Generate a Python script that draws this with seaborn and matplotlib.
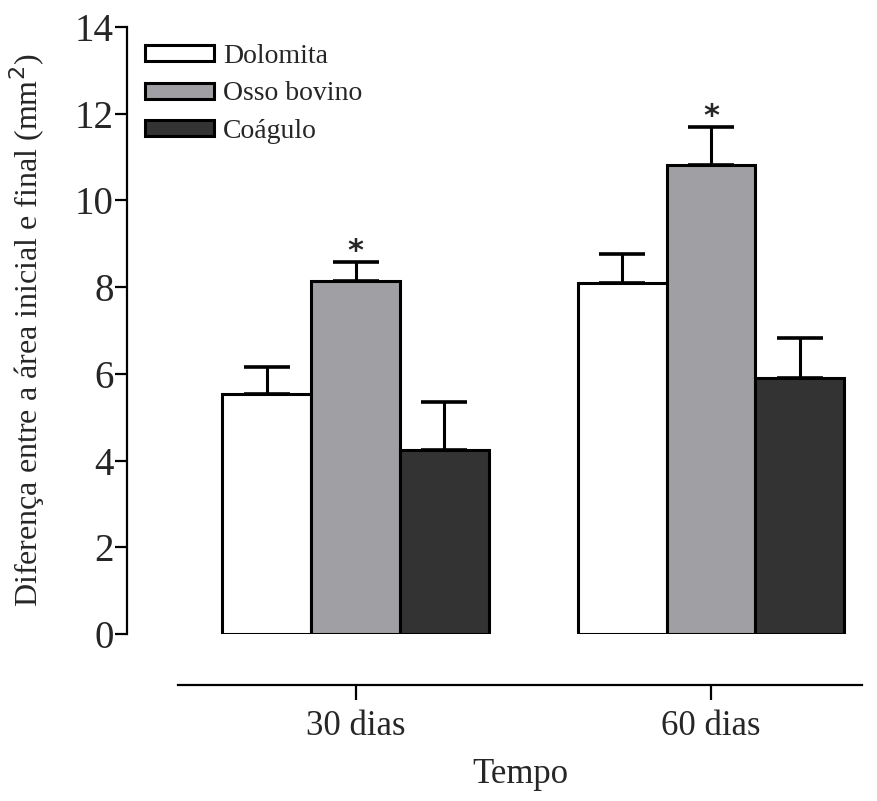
import pandas as pd
import matplotlib
matplotlib.use('Agg')
import matplotlib.pyplot as plt
import seaborn as sns

# Data
tempos = ['30 dias', '60 dias']
grupos = ['Dolomita', 'Osso bovino', 'Coágulo']
medias = {
    'Dolomita': [5.53, 8.10],
    'Osso bovino': [8.15, 10.82],
    'Coágulo': [4.24, 5.90],
}
erros = {
    'Dolomita': [0.63, 0.66],
    'Osso bovino': [0.44, 0.87],
    'Coágulo': [1.10, 0.93],
}
significativo = {'Osso bovino': [True, True]}
cores = ['#ffffff', '#a09fa4', '#333333']

sns.set_style('ticks')
plt.rcParams['font.family'] = ['Liberation Serif', 'DejaVu Serif']

rows = []
for g in grupos:
    for t, v in zip(tempos, medias[g]):
        rows.append({'tempo': t, 'grupo': g, 'valor': v})
df = pd.DataFrame(rows)

fig = plt.figure(figsize=(8.78, 8.01), dpi=100)
ax = fig.add_axes([178 / 878, 167 / 801, (862 - 178) / 878, (634 - 27) / 801])

sns.barplot(data=df, x='tempo', y='valor', hue='grupo', order=tempos,
            hue_order=grupos, palette=cores, width=0.75, gap=0,
            edgecolor='black', linewidth=2.2, errorbar=None, saturation=1,
            ax=ax)

# one-sided error bars (SEM) + asterisks
for cont, g in zip(ax.containers, grupos):
    xs = [p.get_x() + p.get_width() / 2 for p in cont.patches]
    ys = [p.get_height() for p in cont.patches]
    ax.errorbar(xs, ys, yerr=[[0] * len(ys), erros[g]], fmt='none',
                ecolor='black', elinewidth=2.2, capsize=16.5, capthick=2.6,
                zorder=1)
    for i, x in enumerate(xs):
        if significativo.get(g, [False] * len(xs))[i]:
            ax.annotate('*', (x, ys[i] + erros[g][i]), xytext=(0, -3),
                        textcoords='offset points', ha='center', va='bottom',
                        fontsize=22, fontweight='bold', family='DejaVu Sans')

ax.set_ylim(0, 14)
ax.set_xlim(-0.5, 1.425)
ax.set_yticks(range(0, 15, 2))

ax.spines['top'].set_visible(False)
ax.spines['right'].set_visible(False)
ax.spines['left'].set_position(('outward', 36.7))
ax.spines['bottom'].set_position(('outward', 36.7))
for s in ['left', 'bottom']:
    ax.spines[s].set_linewidth(1.6)
    ax.spines[s].set_color('black')

ax.tick_params(axis='y', length=8.5, width=1.6, labelsize=28, pad=1,
               color='black')
ax.tick_params(axis='x', length=11, width=1.6, labelsize=25, pad=7,
               color='black')

ax.set_ylabel('Diferença entre a área inicial e final (mm$^2$)', fontsize=23,
              labelpad=20)
ax.set_xlabel('Tempo', fontsize=25, labelpad=11)

leg = ax.legend(loc='upper left', bbox_to_anchor=(145 / 878, 1 - 44 / 801),
                bbox_transform=fig.transFigure, frameon=False, fontsize=20,
                handlelength=2.5, handleheight=0.5, labelspacing=0.45,
                handletextpad=0.3, borderpad=0, borderaxespad=0)

fig.savefig('out.png', dpi=100)
